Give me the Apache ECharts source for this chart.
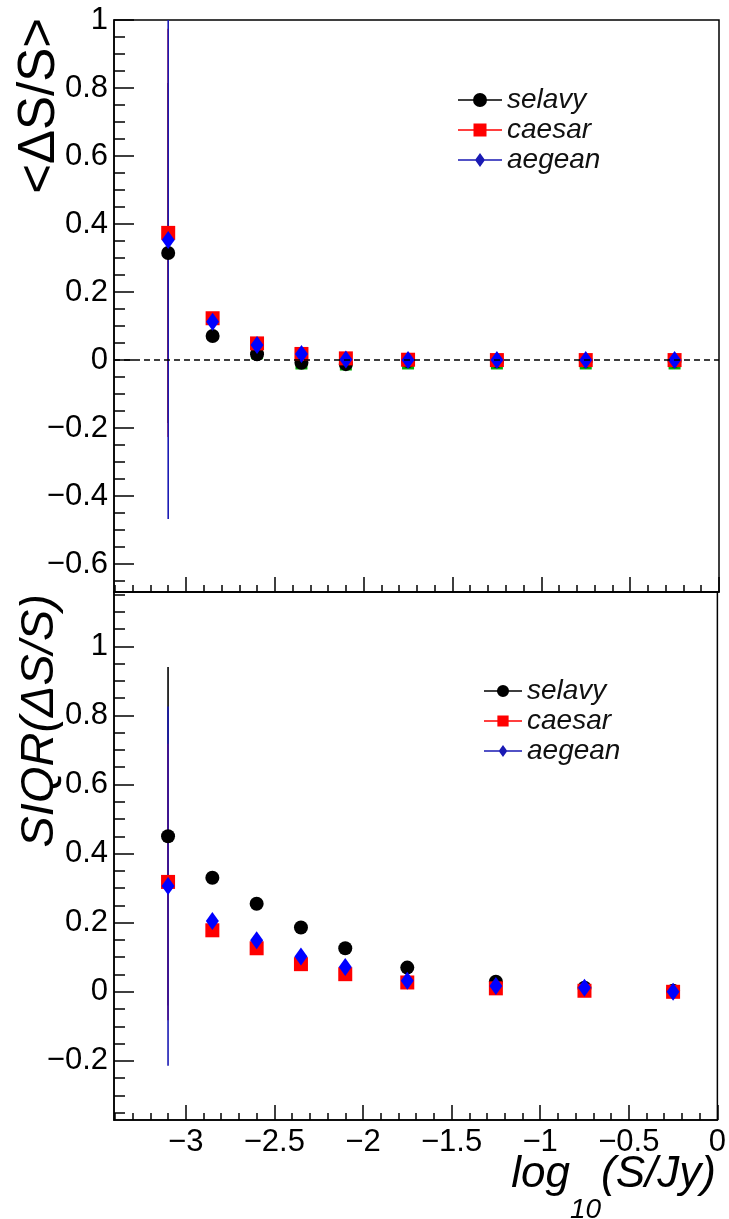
<!DOCTYPE html>
<html>
<head>
<meta charset="utf-8">
<script src="https://cdn.jsdelivr.net/npm/echarts@6/dist/echarts.min.js"></script>
<style>
html,body{margin:0;padding:0;background:#fff;}
#chart{width:729px;height:1219px;}
</style>
</head>
<body>
<div id="chart"></div>
<script>
// ---- data ----
const xCenters = [-3.1, -2.85, -2.6, -2.35, -2.1, -1.75, -1.25, -0.75, -0.25];

// top panel: <dS/S>
const selavyMean = [0.315, 0.071, 0.017, -0.008, -0.012, -0.003, -0.003, -0.002, -0.002];
const caesarMean = [0.374, 0.123, 0.049, 0.018, 0.005, 0.001, 0.0, 0.0, 0.0];
const aegeanMean = [0.353, 0.113, 0.044, 0.018, 0.002, 0.0, 0.0, 0.0, 0.0];
const hiddenMean = [null, null, 0.02, -0.01, -0.013, -0.01, -0.01, -0.01, -0.01];
const selavyMeanErr = [0.5, 0, 0, 0, 0, 0, 0, 0, 0];
const caesarMeanErr = [0.6, 0, 0, 0, 0, 0, 0, 0, 0];
const aegeanMeanErr = [0.82, 0, 0, 0, 0, 0, 0, 0, 0];

// bottom panel: SIQR(dS/S)
const selavySiqr = [0.45, 0.33, 0.255, 0.186, 0.126, 0.07, 0.029, 0.012, 0.003];
const caesarSiqr = [0.318, 0.178, 0.126, 0.08, 0.051, 0.027, 0.01, 0.003, 0.0];
const aegeanSiqr = [0.306, 0.205, 0.149, 0.102, 0.072, 0.032, 0.017, 0.012, 0.0];
const selavySiqrErr = [0.49, 0, 0, 0, 0, 0, 0, 0, 0];
const caesarSiqrErr = [0.4, 0, 0, 0, 0, 0, 0, 0, 0];
const aegeanSiqrErr = [0.52, 0, 0, 0, 0, 0, 0, 0, 0];

// axes / ticks
const xMajorTicks = [-3, -2.5, -2, -1.5, -1, -0.5, 0];
const xMinorTicks = [-3.4, -3.3, -3.2, -3.1, -3.0, -2.9, -2.8, -2.7, -2.6, -2.5, -2.4, -2.3, -2.2, -2.1, -2.0, -1.9, -1.8, -1.7, -1.6, -1.5, -1.4, -1.3, -1.2, -1.1, -1.0, -0.9, -0.8, -0.7, -0.6, -0.5, -0.4, -0.3, -0.2, -0.1, 0];
const yTopMajor = [-0.6, -0.4, -0.2, 0, 0.2, 0.4, 0.6, 0.8, 1];
const yTopMinor = [-0.65, -0.6, -0.55, -0.5, -0.45, -0.4, -0.35, -0.3, -0.25, -0.2, -0.15, -0.1, -0.05, 0, 0.05, 0.1, 0.15, 0.2, 0.25, 0.3, 0.35, 0.4, 0.45, 0.5, 0.55, 0.6, 0.65, 0.7, 0.75, 0.8, 0.85, 0.9, 0.95, 1];
const yBotMajor = [-0.2, 0, 0.2, 0.4, 0.6, 0.8, 1];
const yBotMinor = [-0.35, -0.3, -0.25, -0.2, -0.15, -0.1, -0.05, 0, 0.05, 0.1, 0.15, 0.2, 0.25, 0.3, 0.35, 0.4, 0.45, 0.5, 0.55, 0.6, 0.65, 0.7, 0.75, 0.8, 0.85, 0.9, 0.95, 1, 1.05, 1.1, 1.15];
const seriesNames = ['selavy', 'caesar', 'aegean'];

// ---- layout / style ----
const FONT = '"Liberation Sans", Arial, Helvetica, sans-serif';
const X_MIN = -3.405, X_MAX = 0;
const TOP_MIN = -0.682, TOP_MAX = 1.0;
const BOT_MIN = -0.371, BOT_MAX = 1.157;
const COLORS = { selavy: '#000000', caesar: '#ff0000', aegean: '#0000ff', hidden: '#00b000' };
const ERRCOLORS = { selavy: '#000000', caesar: '#ff0000', aegean: '#1a1ab4' };

function fmt(v) {
  return v < 0 ? '\u2212' + String(-v) : String(v);
}

const lineSt = { color: '#000', width: 1.5 };

function xAxes(grid, labels) {
  return [
    { gridIndex: grid, type: 'value', position: 'bottom', min: X_MIN, max: X_MAX,
      axisLine: { show: true, onZero: false, lineStyle: lineSt },
      axisTick: { show: true, inside: true, length: 15, customValues: xMajorTicks, lineStyle: lineSt },
      axisLabel: labels ? { show: true, customValues: xMajorTicks, formatter: fmt, margin: 7,
        fontSize: 31, fontFamily: FONT, color: '#000' } : { show: false },
      splitLine: { show: false } },
    { gridIndex: grid, type: 'value', position: 'bottom', min: X_MIN, max: X_MAX,
      axisLine: { show: false, onZero: false },
      axisTick: { show: true, inside: true, length: 7, customValues: xMinorTicks, lineStyle: lineSt },
      axisLabel: { show: false }, splitLine: { show: false } }
  ];
}
function yAxes(grid, mn, mx, major, minor) {
  return [
    { gridIndex: grid, type: 'value', position: 'left', min: mn, max: mx,
      axisLine: { show: true, onZero: false, lineStyle: lineSt },
      axisTick: { show: true, inside: true, length: 20, customValues: major, lineStyle: lineSt },
      axisLabel: { show: true, customValues: major, formatter: fmt, margin: 6,
        fontSize: 31, fontFamily: FONT, color: '#000' },
      splitLine: { show: false } },
    { gridIndex: grid, type: 'value', position: 'left', min: mn, max: mx,
      axisLine: { show: false, onZero: false },
      axisTick: { show: true, inside: true, length: 11, customValues: minor, lineStyle: lineSt },
      axisLabel: { show: false }, splitLine: { show: false } }
  ];
}

function errSeries(name, vals, errs, xi, yi, ymin, ymax) {
  return {
    type: 'custom', name: name, xAxisIndex: xi, yAxisIndex: yi, clip: true, silent: true,
    itemStyle: { color: ERRCOLORS[name] },
    data: xCenters.map((x, i) => [x, vals[i], errs[i]]),
    renderItem: function (params, api) {
      const x = api.value(0), y = api.value(1), e = api.value(2);
      if (!e) return null;
      const lo = Math.max(y - e, ymin), hi = Math.min(y + e, ymax);
      const p1 = api.coord([x, lo]), p2 = api.coord([x, hi]);
      return { type: 'line', shape: { x1: p1[0], y1: p1[1], x2: p2[0], y2: p2[1] },
        style: { stroke: ERRCOLORS[name], lineWidth: 1.6 } };
    }
  };
}
const SYMBOLS = {
  selavy: { symbol: 'circle', symbolSize: 14 },
  caesar: { symbol: 'rect', symbolSize: 14 },
  aegean: { symbol: 'diamond', symbolSize: [13, 18] },
  hidden: { symbol: 'rect', symbolSize: 12 }
};
function dotSeries(name, vals, xi, yi) {
  return Object.assign({
    type: 'scatter', name: name, xAxisIndex: xi, yAxisIndex: yi,
    itemStyle: { color: COLORS[name], opacity: 1 },
    data: xCenters.map((x, i) => [x, vals[i]]).filter(d => d[1] !== null)
  }, SYMBOLS[name]);
}

const ICONS = {
  selavy: 'path://M0,6.25h44v1.5H0Z M22,0a7,7 0 1,1 0,14a7,7 0 1,1 0,-14Z',
  caesar: 'path://M0,6.25h44v1.5H0Z M15.5,0.5h13v13h-13Z',
  aegean: 'path://M0,6.25h44v1.5H0Z M22,0L27,7L22,14L17,7Z'
};

const topHidden = dotSeries('hidden', hiddenMean, 0, 0);
const topSelavy = dotSeries('selavy', selavyMean, 0, 0);
topSelavy.markLine = {
  silent: true, symbol: 'none', label: { show: false },
  lineStyle: { color: '#000', width: 1.5, type: [6, 4] },
  data: [{ yAxis: 0 }]
};

const legendCommon = {
  orient: 'vertical', selectedMode: false, itemGap: 2,
  textStyle: { fontSize: 28, fontStyle: 'italic', fontFamily: FONT, color: '#111', lineHeight: 26 }
};

const option = {
  animation: false,
  backgroundColor: '#ffffff',
  grid: [
    { left: 114, top: 20, width: 605, height: 572, show: true, borderColor: '#000', borderWidth: 1.5, backgroundColor: 'transparent' },
    { left: 114, top: 592, width: 605, height: 528, show: true, borderColor: '#000', borderWidth: 1.5, backgroundColor: 'transparent' }
  ],
  xAxis: [].concat(xAxes(0, false), xAxes(1, true)),
  yAxis: [].concat(yAxes(0, TOP_MIN, TOP_MAX, yTopMajor, yTopMinor), yAxes(1, BOT_MIN, BOT_MAX, yBotMajor, yBotMinor)),
  legend: [
    Object.assign({}, legendCommon, { left: 453, top: 81, itemWidth: 44, itemHeight: 14,
      data: seriesNames.map(n => ({ name: n, icon: ICONS[n] })) }),
    Object.assign({}, legendCommon, { left: 479, top: 672, itemWidth: 38, itemHeight: 14,
      data: seriesNames.map(n => ({ name: n, icon: ICONS[n] })) })
  ],
  series: [
    topHidden,
    errSeries('selavy', selavyMean, selavyMeanErr, 0, 0, TOP_MIN, TOP_MAX),
    topSelavy,
    errSeries('caesar', caesarMean, caesarMeanErr, 0, 0, TOP_MIN, TOP_MAX),
    dotSeries('caesar', caesarMean, 0, 0),
    errSeries('aegean', aegeanMean, aegeanMeanErr, 0, 0, TOP_MIN, TOP_MAX),
    dotSeries('aegean', aegeanMean, 0, 0),

    errSeries('selavy', selavySiqr, selavySiqrErr, 2, 2, BOT_MIN, BOT_MAX),
    dotSeries('selavy', selavySiqr, 2, 2),
    errSeries('caesar', caesarSiqr, caesarSiqrErr, 2, 2, BOT_MIN, BOT_MAX),
    dotSeries('caesar', caesarSiqr, 2, 2),
    errSeries('aegean', aegeanSiqr, aegeanSiqrErr, 2, 2, BOT_MIN, BOT_MAX),
    dotSeries('aegean', aegeanSiqr, 2, 2)
  ],
  graphic: [
    { type: 'text', x: 40, y: 18, rotation: Math.PI / 2,
      style: { text: '<\u0394S/S>', font: '51px ' + FONT, fill: '#000', textAlign: 'right', textVerticalAlign: 'middle' } },
    { type: 'text', x: 40, y: 594, rotation: Math.PI / 2,
      style: { text: 'SIQR(\u0394S/S)', font: 'italic 47px ' + FONT, fill: '#000', textAlign: 'right', textVerticalAlign: 'middle' } },
    { type: 'text', x: 716, y: 1153,
      style: { text: '{a|log}{b|10}{a|(S/Jy)}', textAlign: 'right', textVerticalAlign: 'top', fill: '#000',
        rich: {
          a: { fontSize: 44, fontStyle: 'italic', fontFamily: FONT, lineHeight: 50, verticalAlign: 'top', fill: '#000' },
          b: { fontSize: 28, fontStyle: 'italic', fontFamily: FONT, lineHeight: 71, verticalAlign: 'bottom', fill: '#000' }
        } } }
  ]
};

const chart = echarts.init(document.getElementById('chart'), null, { renderer: 'canvas' });
chart.setOption(option);
</script>
</body>
</html>
